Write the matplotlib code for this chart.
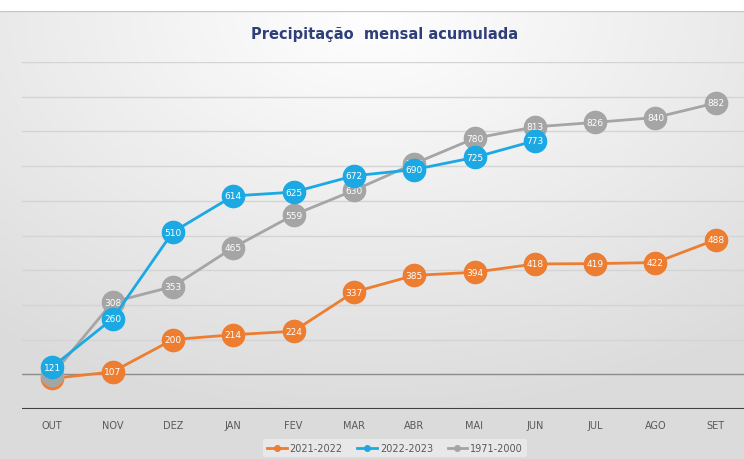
import numpy as np
import matplotlib
matplotlib.use("Agg")
import matplotlib.pyplot as plt
from matplotlib.lines import Line2D

months = ["OUT", "NOV", "DEZ", "JAN", "FEV", "MAR", "ABR", "MAI", "JUN", "JUL", "AGO", "SET"]
s2021 = [88, 107, 200, 214, 224, 337, 385, 394, 418, 419, 422, 488]
s2022 = [121, 260, 510, 614, 625, 672, 690, 725, 773]
s1971 = [98, 308, 353, 465, 559, 630, 707, 780, 813, 826, 840, 882]
series_names = ["2021-2022", "2022-2023", "1971-2000"]

c_or = "#ED7D31"
c_bl = "#1CA9E3"
c_gr = "#A5A5A5"

W, H = 744, 460
fig = plt.figure(figsize=(W / 100, H / 100), dpi=100)
fig.patch.set_facecolor("white")

# background gradient
bg = fig.add_axes([0, 0, 1, (H - 12) / H])
bg.set_axis_off()
yy, xx = np.mgrid[0:1:200j, 0:1:300j]
val = 0.86 + 0.14 * (1 - np.clip(np.sqrt(((xx - 0.5) * 1.2) ** 2 + ((1 - yy) * 1.1) ** 2), 0, 1))
val = np.clip(val, 0, 1)
img = np.dstack([val, val, val])
bg.imshow(img, aspect="auto", extent=[0, 1, 0, 1], origin="lower")
bg.set_xlim(0, 1)
bg.set_ylim(0, 1)
bg.plot([0, 1], [1, 1], color="#c8c8c8", lw=1)

ax = fig.add_axes([22 / W, 1 - 410 / H, (746 - 22) / W, (410 - 63) / H])
ax.patch.set_alpha(0)
ax.set_xlim(-0.5, 11.5)
ax.set_ylim(0, 1000)
for v in range(100, 1001, 100):
    ax.axhline(v, color="#8c8c8c" if v == 100 else "#d4d4d4", lw=1.0, zorder=1)
ax.axhline(0, color="#404040", lw=1.5, zorder=2)
for sp in ax.spines.values():
    sp.set_visible(False)
ax.set_yticks([])
ax.set_xticks(range(len(months)))
ax.set_xticklabels(months, fontsize=7, color="#595959", family="DejaVu Sans Condensed" if False else None)
ax.tick_params(axis="x", length=0, pad=8)

def draw(vals, color, z):
    x = np.arange(len(vals))
    ax.plot(x, vals, color=color, lw=2.0, marker="o", ms=16, mfc=color, mec=color, zorder=z)
    for xi, v in zip(x, vals):
        ax.text(xi, v, str(v), color="white", fontsize=6.5, ha="center", va="center", zorder=z + 0.5)

draw(s2021, c_or, 3)
draw(s1971, c_gr, 5)
draw(s2022, c_bl, 7)

fig.text(385 / W, 1 - 35 / H, "Precipitação  mensal acumulada", ha="center", va="center",
         fontsize=10.5, fontweight="bold", color="#2F3F7A")

handles = [Line2D([0], [0], color=c, lw=2, marker="o", ms=4) for c in (c_or, c_bl, c_gr)]
leg = fig.legend(handles, series_names, loc="center", bbox_to_anchor=(395 / W, 1 - 449 / H),
                 ncol=3, frameon=True, fontsize=7, handlelength=2.0, handletextpad=0.3,
                 columnspacing=1.5, borderpad=0.4)
leg.get_frame().set_facecolor("#ececec")
leg.get_frame().set_edgecolor("none")
for t in leg.get_texts():
    t.set_color("#595959")

fig.savefig("out.png", dpi=100)
